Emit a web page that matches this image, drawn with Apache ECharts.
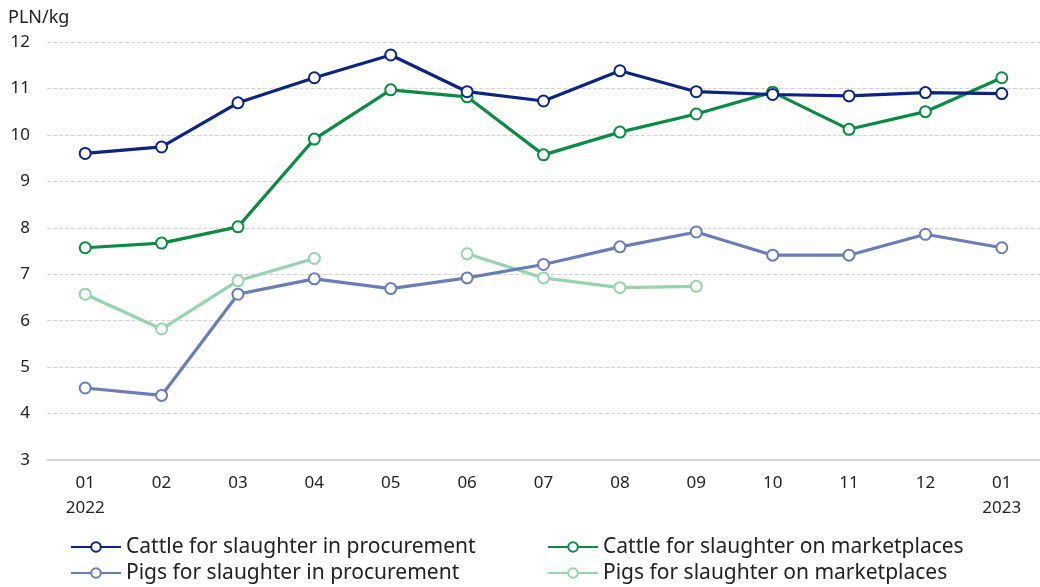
<!DOCTYPE html>
<html><head><meta charset="utf-8">
<script src="https://cdn.jsdelivr.net/npm/echarts@6/dist/echarts.min.js"></script>
<style>html,body{margin:0;padding:0;background:#fff}#c{width:1040px;height:587px}</style>
</head><body><div id="c"></div>
<script>
const categories = ['01\n2022','02','03','04','05','06','07','08','09','10','11','12','01\n2023'];
const cattleProc = [9.6, 9.74, 10.69, 11.23, 11.72, 10.93, 10.73, 11.38, 10.93, 10.87, 10.84, 10.91, 10.89];
const cattleMkt  = [7.57, 7.67, 8.02, 9.91, 10.97, 10.82, 9.57, 10.06, 10.45, 10.92, 10.12, 10.5, 11.23];
const pigsProc   = [4.55, 4.39, 6.57, 6.9, 6.69, 6.92, 7.21, 7.59, 7.91, 7.41, 7.41, 7.86, 7.57];
const pigsMkt    = [6.57, 5.82, 6.86, 7.34, null, 7.44, 6.92, 6.71, 6.74, null, null, null, null];
const names = ['Cattle for slaughter in procurement','Cattle for slaughter on marketplaces','Pigs for slaughter in procurement','Pigs for slaughter on marketplaces'];
const colors = ['#0b2580','#0a8a43','#6a7db7','#97d3ae'];

const font = 'Noto Sans';
const chart = echarts.init(document.getElementById('c'));
function mk(i, data){
  return {name:names[i], type:'line', data:data, color:colors[i], connectNulls:false,
    symbol:'emptyCircle', symbolSize:11, showSymbol:true,
    lineStyle:{width:3.2, color:colors[i]},
    itemStyle:{color:colors[i], borderWidth:2.6, borderColor:colors[i]},
    z: 10-i};
}
const legText = {fontSize:21, color:'#222', fontFamily:font, lineHeight:26};
chart.setOption({
  animation:false,
  textStyle:{fontFamily:font},
  grid:{left:47, right:0, top:42, bottom:127},
  xAxis:{type:'category', data:categories, boundaryGap:true,
    axisLine:{lineStyle:{color:'#d9d9d9', width:2}}, axisTick:{show:false},
    axisLabel:{color:'#222', fontSize:17, margin:11, lineHeight:25, fontFamily:font}},
  yAxis:{type:'value', min:3, max:12, interval:1,
    name:'PLN/kg', nameLocation:'end', nameGap:15,
    nameTextStyle:{color:'#222', fontSize:18, align:'left', padding:[0,0,0,-39], fontFamily:font},
    axisLine:{show:false}, axisTick:{show:false},
    axisLabel:{color:'#222', fontSize:17, margin:17, fontFamily:font},
    splitLine:{lineStyle:{color:'#d4d4d4', type:'dashed', width:1}}},
  legend:[
    {orient:'vertical', left:70, bottom:1, itemWidth:50, itemHeight:12, itemGap:0, padding:0,
      data:[names[0], names[2]], textStyle:legText},
    {orient:'vertical', left:547, bottom:1, itemWidth:50, itemHeight:12, itemGap:0, padding:0,
      data:[names[1], names[3]], textStyle:legText}
  ],
  series:[mk(0,cattleProc), mk(1,cattleMkt), mk(2,pigsProc), mk(3,pigsMkt)]
});
</script></body></html>
